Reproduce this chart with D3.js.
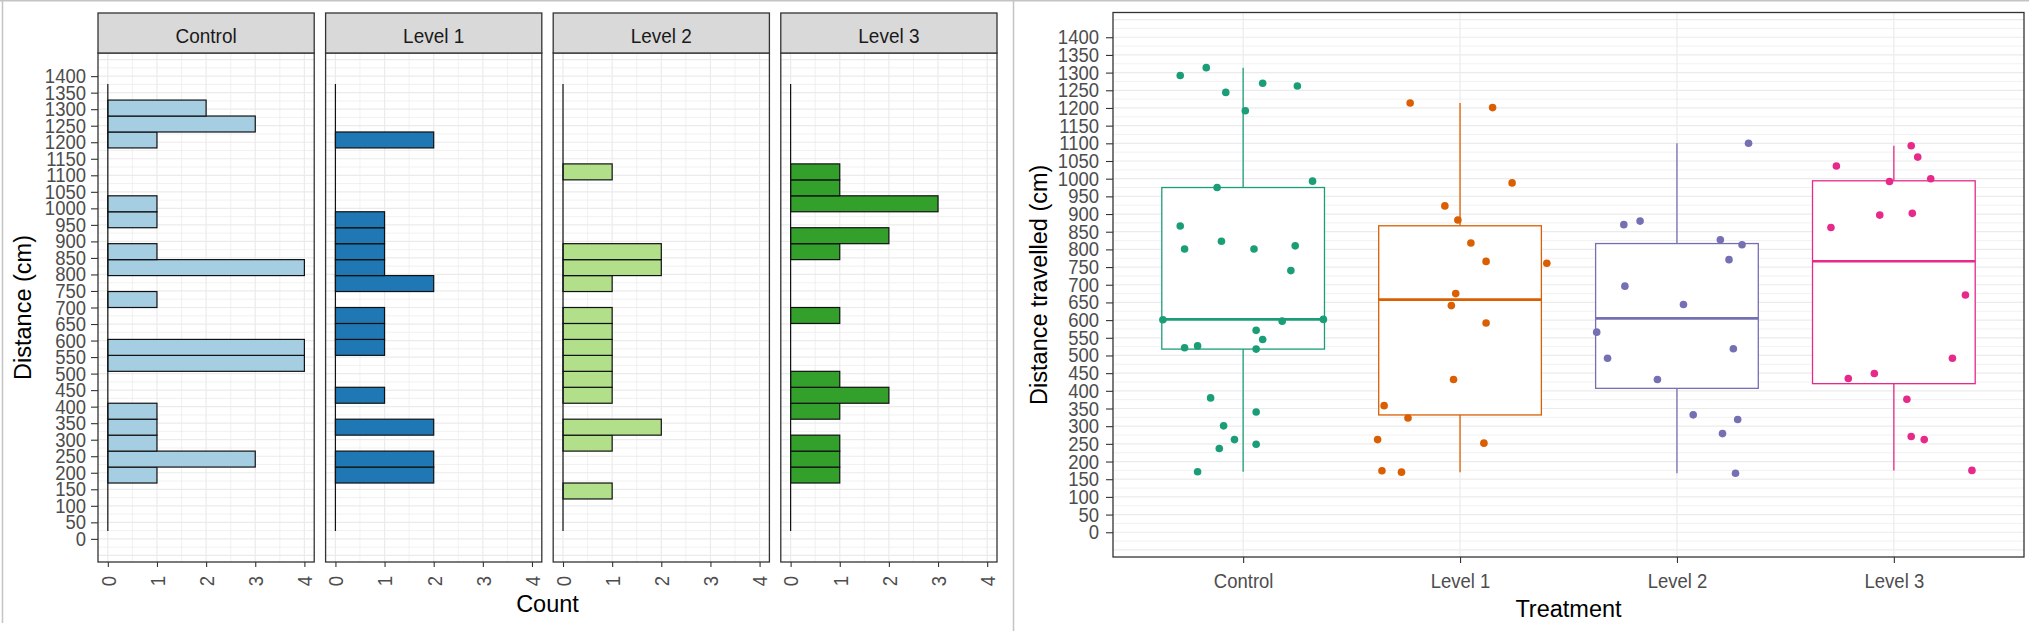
<!DOCTYPE html>
<html>
<head>
<meta charset="utf-8">
<script src="https://cdn.jsdelivr.net/npm/d3@7"></script>
<style>
  body { margin: 0; background: #fff; }
  text { font-family: "Liberation Sans", Arial, sans-serif; }
</style>
</head>
<body>
<svg id="chart" width="2029" height="631"></svg>
<script>
// Treatment groups
var groups = ['Control', 'Level 1', 'Level 2', 'Level 3']
// Distance travelled (cm) per animal, with the jitter seen in the boxplot (fraction of a category step)
var controlDist = [1292, 1314, 1244, 1270, 1262, 1192, 993, 975, 866, 801, 823, 801, 810, 740, 601, 597, 602, 571, 545, 522, 527, 518, 380, 340, 301, 262, 237, 249, 171]
var controlJitter = [-0.29, -0.17, -0.08, 0.09, 0.25, 0.01, 0.32, -0.12, -0.29, -0.27, -0.10, 0.05, 0.24, 0.22, -0.37, 0.18, 0.37, 0.06, 0.09, -0.27, -0.21, 0.06, -0.15, 0.06, -0.09, -0.04, -0.11, 0.06, -0.21]
var level1Dist = [1214, 1201, 988, 923, 883, 818, 766, 761, 675, 641, 592, 432, 358, 323, 262, 252, 174, 170]
var level1Jitter = [-0.23, 0.15, 0.24, -0.07, -0.01, 0.05, 0.12, 0.40, -0.02, -0.04, 0.12, -0.03, -0.35, -0.24, -0.38, 0.11, -0.36, -0.27]
var level2Dist = [1100, 870, 880, 827, 813, 771, 696, 644, 566, 492, 519, 432, 332, 319, 279, 167]
var level2Jitter = [0.33, -0.245, -0.17, 0.20, 0.30, 0.24, -0.24, 0.03, -0.37, -0.32, 0.26, -0.09, 0.075, 0.28, 0.21, 0.27]
var level3Dist = [1093, 1061, 1036, 1000, 992, 897, 902, 862, 671, 492, 435, 449, 376, 271, 262, 175]
var level3Jitter = [0.08, 0.11, -0.265, 0.17, -0.02, -0.065, 0.085, -0.29, 0.33, 0.27, -0.21, -0.09, 0.06, 0.08, 0.14, 0.36]
// Tick labels
var distTicks = d3.range(0, 1401, 50)
var countTicks = [0, 1, 2, 3, 4]

var allDist = [controlDist, level1Dist, level2Dist, level3Dist]
var allJitter = [controlJitter, level1Jitter, level2Jitter, level3Jitter]
var histColors = ['#A6CEE3', '#1F78B4', '#B2DF8A', '#33A02C']
var boxColors = ['#1B9E77', '#D95F02', '#7570B3', '#E7298A']

var svg = d3.select('#chart')
var stretch = 1.1 // the original text renders a little tall
var gridY = d3.range(-50, 1451, 25)
var fmt = d3.format('d')

// frames of the two pasted images
svg.append('line').attr('x1', 0).attr('x2', 2029).attr('y1', 0.75).attr('y2', 0.75)
  .attr('stroke', '#c4c4c4').attr('stroke-width', 1.5)
svg.append('line').attr('x1', 2.5).attr('x2', 2.5).attr('y1', 0).attr('y2', 623)
  .attr('stroke', '#c4c4c4').attr('stroke-width', 1.5)
svg.append('line').attr('x1', 1013.5).attr('x2', 1013.5).attr('y1', 0).attr('y2', 631)
  .attr('stroke', '#c4c4c4').attr('stroke-width', 1.5)

function styleAxis (g, size) {
  g.select('.domain').remove()
  g.selectAll('.tick line').attr('stroke', '#333333').attr('stroke-width', 1.1)
  g.selectAll('.tick text')
    .attr('fill', '#4D4D4D')
    .style('font-size', size + 'px')
    .style('font-family', '"Liberation Sans", Arial, sans-serif')
}

// ---------- Left: faceted histograms ----------
var histTop = 53
var histBottom = 562
var stripTop = 13
var facetX = d3.scaleBand().domain(groups).range([98, 997]).paddingInner(0.05)
var yHist = d3.scaleLinear().domain([-70, 1470]).range([histBottom, histTop])

// ggplot default bins = 30 over the limits 0..1400
var nBins = 30
var binWidth = 1400 / (nBins - 1)
var binner = d3.bin()
  .domain([0.5 * binWidth, 28.5 * binWidth])
  .thresholds(d3.range(1.5, 28.5, 1).map(k => k * binWidth))

groups.forEach(function (g, i) {
  var x0 = facetX(g)
  var bw = facetX.bandwidth()
  var xc = d3.scaleLinear().domain([-0.2, 4.2]).range([x0, x0 + bw])
  var panel = svg.append('g').attr('class', 'facet')

  panel.append('rect')
    .attr('x', x0).attr('y', histTop).attr('width', bw).attr('height', histBottom - histTop)
    .attr('fill', '#fff')

  panel.selectAll('.hgrid').data(gridY).enter().append('line')
    .attr('x1', x0).attr('x2', x0 + bw)
    .attr('y1', d => yHist(d)).attr('y2', d => yHist(d))
    .attr('stroke', '#EBEBEB')
    .attr('stroke-width', d => d % 50 === 0 ? 1.2 : 0.7)

  panel.selectAll('.vgrid').data(d3.range(0, 4.01, 0.5)).enter().append('line')
    .attr('x1', d => xc(d)).attr('x2', d => xc(d))
    .attr('y1', histTop).attr('y2', histBottom)
    .attr('stroke', '#EBEBEB')
    .attr('stroke-width', d => d % 1 === 0 ? 1.2 : 0.7)

  var bins = binner(allDist[i])

  panel.selectAll('.bar').data(bins.filter(b => b.length > 0)).enter().append('rect')
    .attr('x', xc(0))
    .attr('width', d => xc(d.length) - xc(0))
    .attr('y', d => yHist(d.x1))
    .attr('height', d => yHist(d.x0) - yHist(d.x1))
    .attr('fill', histColors[i])
    .attr('stroke', '#111')
    .attr('stroke-width', 1.2)

  // empty bins collapse to a line along zero
  panel.append('line')
    .attr('x1', xc(0)).attr('x2', xc(0))
    .attr('y1', yHist(bins[0].x0)).attr('y2', yHist(bins[bins.length - 1].x1))
    .attr('stroke', '#111').attr('stroke-width', 1.2)

  panel.append('rect')
    .attr('x', x0).attr('y', histTop).attr('width', bw).attr('height', histBottom - histTop)
    .attr('fill', 'none').attr('stroke', '#333333').attr('stroke-width', 1.3)

  // strip
  panel.append('rect')
    .attr('x', x0).attr('y', stripTop).attr('width', bw).attr('height', histTop - stripTop)
    .attr('fill', '#D9D9D9').attr('stroke', '#333333').attr('stroke-width', 1.3)
  panel.append('text')
    .attr('transform', `translate(${x0 + bw / 2},42.5) scale(1,${stretch})`)
    .attr('text-anchor', 'middle')
    .attr('fill', '#1A1A1A')
    .style('font-size', '19px')
    .text(g)

  var xAxis = panel.append('g')
    .attr('transform', `translate(0,${histBottom})`)
    .call(d3.axisBottom(xc).tickValues(countTicks).tickSize(5).tickFormat(fmt))
  styleAxis(xAxis, 18.5)
  xAxis.selectAll('.tick text')
    .attr('transform', `rotate(-90) scale(1,${stretch})`)
    .attr('x', -14).attr('y', 0).attr('dy', '0.36em')
    .attr('text-anchor', 'end')

  if (i === 0) {
    var yAxis = panel.append('g')
      .attr('transform', `translate(${x0},0)`)
      .call(d3.axisLeft(yHist).tickValues(distTicks).tickFormat(fmt).tickSize(7).tickPadding(5))
    styleAxis(yAxis, 18.5)
    yAxis.selectAll('.tick text').attr('transform', `scale(1,${stretch})`)
  }
})

svg.append('text')
  .attr('transform', `translate(31,${(histTop + histBottom) / 2}) rotate(-90)`)
  .attr('text-anchor', 'middle')
  .style('font-size', '23.5px')
  .text('Distance (cm)')
svg.append('text')
  .attr('x', (98 + 997) / 2).attr('y', 612)
  .attr('text-anchor', 'middle')
  .style('font-size', '23.5px')
  .text('Count')

// ---------- Right: boxplot with jittered points ----------
var boxLeft = 1113
var boxRight = 2024
var boxTop = 12.5
var boxBottom = 557
var xBox = d3.scalePoint().domain(groups).range([boxLeft, boxRight]).padding(0.6)
var yBox = d3.scaleLinear().domain([-70, 1470]).range([boxBottom, boxTop])
var step = xBox.step()
var boxW = step * 0.75

var right = svg.append('g').attr('class', 'boxplot')
right.selectAll('.hgrid').data(gridY).enter().append('line')
  .attr('x1', boxLeft).attr('x2', boxRight)
  .attr('y1', d => yBox(d)).attr('y2', d => yBox(d))
  .attr('stroke', '#EBEBEB')
  .attr('stroke-width', d => d % 50 === 0 ? 1.2 : 0.7)
right.selectAll('.vgrid').data(groups).enter().append('line')
  .attr('x1', d => xBox(d)).attr('x2', d => xBox(d))
  .attr('y1', boxTop).attr('y2', boxBottom)
  .attr('stroke', '#EBEBEB').attr('stroke-width', 1.2)

var stats = groups.map(function (g, i) {
  var s = allDist[i].slice().sort(d3.ascending)
  var q1 = d3.quantileSorted(s, 0.25)
  var med = d3.quantileSorted(s, 0.5)
  var q3 = d3.quantileSorted(s, 0.75)
  var iqr = q3 - q1
  var lo = d3.min(s.filter(v => v >= q1 - 1.5 * iqr))
  var hi = d3.max(s.filter(v => v <= q3 + 1.5 * iqr))
  return { group: g, color: boxColors[i], q1: q1, med: med, q3: q3, lo: lo, hi: hi }
})

var boxes = right.selectAll('.box').data(stats).enter().append('g').attr('class', 'box')
boxes.append('line')
  .attr('x1', d => xBox(d.group)).attr('x2', d => xBox(d.group))
  .attr('y1', d => yBox(d.q3)).attr('y2', d => yBox(d.hi))
  .attr('stroke', d => d.color).attr('stroke-width', 1.3)
boxes.append('line')
  .attr('x1', d => xBox(d.group)).attr('x2', d => xBox(d.group))
  .attr('y1', d => yBox(d.q1)).attr('y2', d => yBox(d.lo))
  .attr('stroke', d => d.color).attr('stroke-width', 1.3)
boxes.append('rect')
  .attr('x', d => xBox(d.group) - boxW / 2)
  .attr('width', boxW)
  .attr('y', d => yBox(d.q3))
  .attr('height', d => yBox(d.q1) - yBox(d.q3))
  .attr('fill', '#fff')
  .attr('stroke', d => d.color).attr('stroke-width', 1.3)
boxes.append('line')
  .attr('x1', d => xBox(d.group) - boxW / 2).attr('x2', d => xBox(d.group) + boxW / 2)
  .attr('y1', d => yBox(d.med)).attr('y2', d => yBox(d.med))
  .attr('stroke', d => d.color).attr('stroke-width', 2.7)

var points = []
groups.forEach(function (g, i) {
  allDist[i].forEach(function (v, j) {
    points.push({ group: g, value: v, jitter: allJitter[i][j], color: boxColors[i] })
  })
})
right.selectAll('.pt').data(points).enter().append('circle')
  .attr('cx', d => xBox(d.group) + d.jitter * step)
  .attr('cy', d => yBox(d.value))
  .attr('r', 3.8)
  .attr('fill', d => d.color)

right.append('rect')
  .attr('x', boxLeft).attr('y', boxTop).attr('width', boxRight - boxLeft).attr('height', boxBottom - boxTop)
  .attr('fill', 'none').attr('stroke', '#333333').attr('stroke-width', 1.3)

var bxAxis = right.append('g')
  .attr('transform', `translate(0,${boxBottom})`)
  .call(d3.axisBottom(xBox).tickSize(6).tickPadding(9))
styleAxis(bxAxis, 18.5)
bxAxis.selectAll('.tick text').attr('transform', `scale(1,${stretch})`)

var byAxis = right.append('g')
  .attr('transform', `translate(${boxLeft},0)`)
  .call(d3.axisLeft(yBox).tickValues(distTicks).tickFormat(fmt).tickSize(7).tickPadding(7))
styleAxis(byAxis, 18.5)
byAxis.selectAll('.tick text').attr('transform', `scale(1,${stretch})`)

svg.append('text')
  .attr('transform', `translate(1047,${(boxTop + boxBottom) / 2}) rotate(-90)`)
  .attr('text-anchor', 'middle')
  .style('font-size', '23.5px')
  .text('Distance travelled (cm)')
svg.append('text')
  .attr('x', (boxLeft + boxRight) / 2).attr('y', 617)
  .attr('text-anchor', 'middle')
  .style('font-size', '23.5px')
  .text('Treatment')
</script>
</body>
</html>
